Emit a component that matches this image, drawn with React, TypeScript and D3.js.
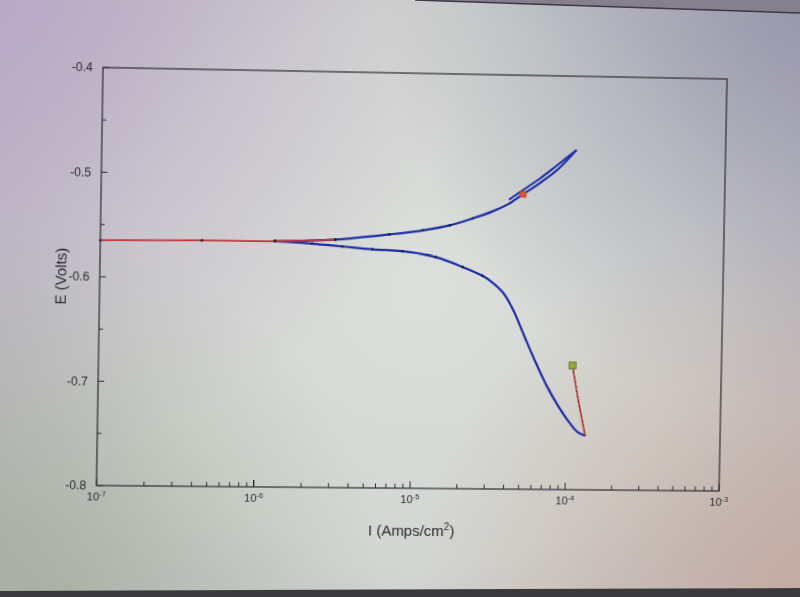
import React from "react";
import * as d3 from "d3";

const W = 800;
const H = 597;

// axis ticks
const xDecades = [-7, -6, -5, -4, -3];
const yTicks = [-0.4, -0.5, -0.6, -0.7, -0.8];
const yTickLabels = ["-0.4", "-0.5", "-0.6", "-0.7", "-0.8"];
const yMinorTicks = [-0.45, -0.55, -0.65, -0.75];

// open-circuit / corrosion-potential region (red)
const restI = [1.0e-7, 4.4e-7, 1.28e-6, 3.12e-6];
const restE = [-0.565, -0.5638, -0.5635, -0.5611];

// anodic branch (blue)
const anodicI = [1.28e-6, 3.12e-6, 6.92e-6, 1.13e-5, 1.68e-5, 2.36e-5, 3.16e-5, 3.95e-5, 5.0e-5, 6.5e-5, 8.3e-5, 1.08e-4];
const anodicE = [-0.5635, -0.5611, -0.5554, -0.551, -0.5458, -0.5388, -0.5317, -0.5248, -0.5142, -0.5024, -0.4897, -0.4712];

// short reverse hook at the end of the scan (blue)
const reverseI = [1.08e-4, 8.05e-5, 6.3e-5, 4.98e-5, 4.02e-5];
const reverseE = [-0.4712, -0.4868, -0.4995, -0.5103, -0.5201];

// cathodic branch (blue)
const cathodicI = [1.28e-6, 2.22e-6, 3.47e-6, 5.41e-6, 8.43e-6, 1.38e-5, 2.06e-5, 2.77e-5, 3.22e-5, 3.75e-5, 4.37e-5, 5.2e-5, 6.15e-5, 7.38e-5, 8.8e-5, 1.04e-4, 1.18e-4, 1.33e-4];
const cathodicE = [-0.5635, -0.5654, -0.5677, -0.57, -0.5715, -0.5767, -0.5858, -0.5941, -0.6005, -0.6096, -0.6255, -0.6509, -0.6751, -0.6994, -0.7187, -0.7344, -0.7438, -0.7475];

// initial part of the scan (red, dotted)
const initialI = [1.33e-4, 1.19e-4, 1.08e-4];
const initialE = [-0.7475, -0.7135, -0.6797];

// markers
const startMarkerI = [1.08e-4];
const startMarkerE = [-0.6797];
const endMarkerI = [4.95e-5];
const endMarkerE = [-0.5148];

const plot = { left: 100, right: 722, top: 73, bottom: 491 };

// where the photographed plot frame corners land (perspective of the photo)
const frameSrc: [number, number][] = [
  [plot.left, plot.top],
  [plot.right, plot.top],
  [plot.left, plot.bottom],
  [plot.right, plot.bottom],
];
const frameDst: [number, number][] = [
  [103, 67.5],
  [727, 79],
  [96.5, 485.5],
  [719, 491],
];

function solve(A: number[][], b: number[]): number[] {
  const n = b.length;
  const M = A.map((row, i) => [...row, b[i]]);
  for (let c = 0; c < n; c++) {
    let p = c;
    for (let r = c + 1; r < n; r++) if (Math.abs(M[r][c]) > Math.abs(M[p][c])) p = r;
    [M[c], M[p]] = [M[p], M[c]];
    for (let r = 0; r < n; r++) {
      if (r === c) continue;
      const f = M[r][c] / M[c][c];
      for (let k = c; k <= n; k++) M[r][k] -= f * M[c][k];
    }
  }
  return M.map((row, i) => row[n] / row[i]);
}

function homographyCss(src: [number, number][], dst: [number, number][]): string {
  const A: number[][] = [];
  const b: number[] = [];
  src.forEach(([sx, sy], i) => {
    const [X, Y] = dst[i];
    A.push([sx, sy, 1, 0, 0, 0, -sx * X, -sy * X]);
    b.push(X);
    A.push([0, 0, 0, sx, sy, 1, -sx * Y, -sy * Y]);
    b.push(Y);
  });
  const [a, bb, c, d, e, f, g, h] = solve(A, b);
  return `matrix3d(${a},${d},0,${g},${bb},${e},0,${h},0,0,1,0,${c},${f},0,1)`;
}

const x = d3.scaleLog().domain([1e-7, 1e-3]).range([plot.left, plot.right]);
const y = d3.scaleLinear().domain([-0.8, -0.4]).range([plot.bottom, plot.top]);

const zip = (I: number[], E: number[]) => I.map((v, i) => [v, E[i]] as [number, number]);

const line = d3
  .line<[number, number]>()
  .x((d) => x(d[0]))
  .y((d) => y(d[1]))
  .curve(d3.curveCatmullRom.alpha(0.5));

const minorX: number[] = [];
xDecades.slice(0, -1).forEach((e) => {
  for (let k = 2; k <= 9; k++) minorX.push(k * Math.pow(10, e));
});

const FONT = "'Liberation Sans', Arial, sans-serif";
const INK = "#2c2c30";
const BLUE = "#1c2ea6";
const RED = "#c4333a";

export default function App() {
  const rest = zip(restI, restE);
  const anodic = zip(anodicI, anodicE);
  const reverse = zip(reverseI, reverseE);
  const cathodic = zip(cathodicI, cathodicE);
  const initial = zip(initialI, initialE);
  const dots = [...rest, ...anodic, ...cathodic].filter((d) => d[0] < 3e-5);
  const warp = homographyCss(frameSrc, frameDst);

  return (
    <div style={{ position: "fixed", left: 0, top: 0, width: W, height: H, overflow: "hidden" }}>
      <svg width={W} height={H} style={{ position: "absolute", left: 0, top: 0, display: "block" }}>
        <defs>
          <radialGradient id="bgBase" cx="420" cy="290" r="620" gradientUnits="userSpaceOnUse">
            <stop offset="0" stopColor="#dcdfdb" />
            <stop offset="0.45" stopColor="#d2d5d1" />
            <stop offset="1" stopColor="#aaa3b4" />
          </radialGradient>
          <radialGradient id="tl" cx="0" cy="0" r="460" gradientUnits="userSpaceOnUse">
            <stop offset="0" stopColor="#b9a6c8" stopOpacity="0.8" />
            <stop offset="1" stopColor="#b9a6c8" stopOpacity="0" />
          </radialGradient>
          <radialGradient id="tr" cx="800" cy="0" r="420" gradientUnits="userSpaceOnUse">
            <stop offset="0" stopColor="#8d8ca6" stopOpacity="0.75" />
            <stop offset="1" stopColor="#8d8ca6" stopOpacity="0" />
          </radialGradient>
          <radialGradient id="bl" cx="0" cy="597" r="380" gradientUnits="userSpaceOnUse">
            <stop offset="0" stopColor="#a2ad97" stopOpacity="0.7" />
            <stop offset="1" stopColor="#a2ad97" stopOpacity="0" />
          </radialGradient>
          <radialGradient id="br" cx="800" cy="597" r="380" gradientUnits="userSpaceOnUse">
            <stop offset="0" stopColor="#c6a89c" stopOpacity="0.8" />
            <stop offset="1" stopColor="#c6a89c" stopOpacity="0" />
          </radialGradient>
        </defs>
        <rect x={0} y={0} width={W} height={H} fill="url(#bgBase)" />
        <rect x={0} y={0} width={W} height={H} fill="url(#tl)" />
        <rect x={0} y={0} width={W} height={H} fill="url(#tr)" />
        <rect x={0} y={0} width={W} height={H} fill="url(#bl)" />
        <rect x={0} y={0} width={W} height={H} fill="url(#br)" />
        <polygon points="415,0 800,0 800,13" fill="#85808c" />
        <line x1={415} y1={0} x2={800} y2={13} stroke="#3c3844" strokeWidth={1.5} />
        <polygon points="0,591 800,588 800,597 0,597" fill="#3a3a3c" />
      </svg>

      <svg
        width={W}
        height={H}
        style={{
          position: "absolute",
          left: 0,
          top: 0,
          display: "block",
          overflow: "visible",
          transformOrigin: "0 0",
          transform: warp,
        }}
      >
        <rect
          x={plot.left}
          y={plot.top}
          width={plot.right - plot.left}
          height={plot.bottom - plot.top}
          fill="none"
          stroke={INK}
          strokeWidth={1.2}
        />

        {yTicks.map((v, i) => (
          <g key={"y" + v}>
            <line x1={plot.left} x2={plot.left + 6} y1={y(v)} y2={y(v)} stroke={INK} strokeWidth={1} />
            <text
              x={plot.left - 10}
              y={y(v)}
              dy="0.35em"
              textAnchor="end"
              fontFamily={FONT}
              fontSize={12}
              fill={INK}
            >
              {yTickLabels[i]}
            </text>
          </g>
        ))}
        {yMinorTicks.map((v) => (
          <line key={"ym" + v} x1={plot.left} x2={plot.left + 4} y1={y(v)} y2={y(v)} stroke={INK} strokeWidth={1} />
        ))}

        {xDecades.map((e) => {
          const px = x(Math.pow(10, e));
          return (
            <g key={"x" + e}>
              <line x1={px} x2={px} y1={plot.bottom} y2={plot.bottom - 7} stroke={INK} strokeWidth={1} />
              <text x={px} y={plot.bottom + 15} textAnchor="middle" fontFamily={FONT} fontSize={11} fill={INK}>
                10
                <tspan dy={-4} fontSize={7.5}>
                  {String(e)}
                </tspan>
              </text>
            </g>
          );
        })}
        {minorX.map((v) => (
          <line key={"xm" + v} x1={x(v)} x2={x(v)} y1={plot.bottom} y2={plot.bottom - 4.5} stroke={INK} strokeWidth={1} />
        ))}

        <text
          transform={`translate(67 ${(plot.top + plot.bottom) / 2}) rotate(-90)`}
          textAnchor="middle"
          fontFamily={FONT}
          fontSize={15}
          fill={INK}
        >
          E (Volts)
        </text>
        <text x={413} y={539} textAnchor="middle" fontFamily={FONT} fontSize={15} fill={INK}>
          I (Amps/cm
          <tspan dy={-6} fontSize={10}>
            2
          </tspan>
          <tspan dy={6}>)</tspan>
        </text>

        <path d={line(cathodic) || ""} fill="none" stroke={BLUE} strokeWidth={2.2} strokeLinejoin="round" />
        <path d={line(anodic) || ""} fill="none" stroke={BLUE} strokeWidth={2.2} strokeLinejoin="round" />
        <path d={line(reverse) || ""} fill="none" stroke={BLUE} strokeWidth={2} strokeLinejoin="round" />
        <path d={line(rest) || ""} fill="none" stroke={RED} strokeWidth={1.8} />
        <path d={line(initial) || ""} fill="none" stroke={RED} strokeWidth={1.6} />
        <path d={line(initial) || ""} fill="none" stroke="#3a1a20" strokeWidth={1.2} strokeDasharray="1 4" />

        {dots.map((d, i) => (
          <circle key={"d" + i} cx={x(d[0])} cy={y(d[1])} r={1.3} fill="#1e1e3c" />
        ))}

        {startMarkerI.map((v, i) => (
          <rect
            key={"sm" + i}
            x={x(v) - 3.5}
            y={y(startMarkerE[i]) - 3.5}
            width={7}
            height={7}
            fill="#9aa63e"
            stroke="#5a6420"
            strokeWidth={0.8}
          />
        ))}
        {endMarkerI.map((v, i) => (
          <rect
            key={"em" + i}
            x={x(v) - 3}
            y={y(endMarkerE[i]) - 3}
            width={6}
            height={6}
            fill="#e0542c"
            stroke="#b03a20"
            strokeWidth={0.6}
          />
        ))}
      </svg>
    </div>
  );
}
